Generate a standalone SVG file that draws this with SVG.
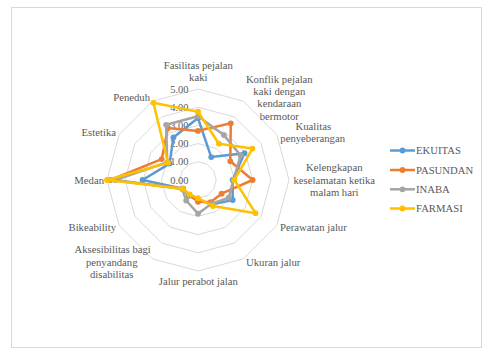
<svg xmlns="http://www.w3.org/2000/svg" width="484" height="351" viewBox="0 0 484 351">
<style>
.lbl{font-family:"Liberation Serif","Times New Roman",serif;font-size:10.7px;fill:#595959;}
.mid{text-anchor:middle;}
.end{text-anchor:end;}
.tick{font-family:"Liberation Serif","Times New Roman",serif;font-size:10.5px;fill:#595959;text-anchor:end;}
.ring{fill:none;stroke:#D9D9D9;stroke-width:1;}
.ser{fill:none;stroke-width:2.5;stroke-linejoin:round;}
</style>
<defs>
<marker id="mB" markerUnits="userSpaceOnUse" markerWidth="8" markerHeight="8" refX="4" refY="4" overflow="visible"><circle cx="4" cy="4" r="2.9" fill="#5B9BD5"/></marker>
<marker id="mO" markerUnits="userSpaceOnUse" markerWidth="8" markerHeight="8" refX="4" refY="4" overflow="visible"><circle cx="4" cy="4" r="2.9" fill="#ED7D31"/></marker>
<marker id="mG" markerUnits="userSpaceOnUse" markerWidth="8" markerHeight="8" refX="4" refY="4" overflow="visible"><circle cx="4" cy="4" r="2.9" fill="#A5A5A5"/></marker>
<marker id="mY" markerUnits="userSpaceOnUse" markerWidth="8" markerHeight="8" refX="4" refY="4" overflow="visible"><circle cx="4" cy="4" r="2.9" fill="#FFC000"/></marker>
</defs>
<rect x="0" y="0" width="484" height="351" fill="#FFFFFF"/>
<rect x="11.5" y="7.5" width="470" height="340" fill="#FFFFFF" stroke="#D9D9D9" stroke-width="1"/>
<g id="grid">
<polygon class="ring" points="198,89 243.5,101.2 276.8,134.5 289,180 276.8,225.5 243.5,258.8 198,271 152.5,258.8 119.2,225.5 107,180 119.2,134.5 152.5,101.2"/>
<polygon class="ring" points="198,107.2 234.4,117 261.1,143.6 270.8,180 261.1,216.4 234.4,243 198,252.8 161.6,243 134.9,216.4 125.2,180 134.9,143.6 161.6,117"/>
<polygon class="ring" points="198,125.4 225.3,132.7 245.3,152.7 252.6,180 245.3,207.3 225.3,227.3 198,234.6 170.7,227.3 150.7,207.3 143.4,180 150.7,152.7 170.7,132.7"/>
<polygon class="ring" points="198,143.6 216.2,148.5 229.5,161.8 234.4,180 229.5,198.2 216.2,211.5 198,216.4 179.8,211.5 166.5,198.2 161.6,180 166.5,161.8 179.8,148.5"/>
<polygon class="ring" points="198,161.8 207.1,164.2 213.8,170.9 216.2,180 213.8,189.1 207.1,195.8 198,198.2 188.9,195.8 182.2,189.1 179.8,180 182.2,170.9 188.9,164.2"/>
</g>
<g id="ticks">
<text class="tick" x="188.5" y="92.5">5.00</text>
<text class="tick" x="188.5" y="110.7">4.00</text>
<text class="tick" x="188.5" y="128.9">3.00</text>
<text class="tick" x="188.5" y="147.1">2.00</text>
<text class="tick" x="188.5" y="165.3">1.00</text>
<text class="tick" x="188.5" y="183.5">0.00</text>
</g>
<g id="axis-labels">
<text class="lbl mid" x="198.3" y="69">Fasilitas pejalan</text>
<text class="lbl mid" x="198.3" y="81">kaki</text>
<text class="lbl mid" x="279.3" y="82.5">Konflik pejalan</text>
<text class="lbl mid" x="279.3" y="94.5">kaki dengan</text>
<text class="lbl mid" x="279.3" y="107">kendaraan</text>
<text class="lbl mid" x="279.3" y="119.5">bermotor</text>
<text class="lbl mid" x="313.3" y="129.5">Kualitas</text>
<text class="lbl mid" x="312.7" y="142">penyeberangan</text>
<text class="lbl mid" x="334.3" y="170.5">Kelengkapan</text>
<text class="lbl mid" x="334.3" y="183.5">keselamatan ketika</text>
<text class="lbl mid" x="334.3" y="196">malam hari</text>
<text class="lbl" x="280" y="231">Perawatan jalur</text>
<text class="lbl" x="246" y="265.5">Ukuran jalur</text>
<text class="lbl mid" x="198.3" y="284.5">Jalur perabot jalan</text>
<text class="lbl mid" x="112.7" y="253">Aksesibilitas bagi</text>
<text class="lbl mid" x="111.7" y="265.5">penyandang</text>
<text class="lbl mid" x="111.7" y="278">disabilitas</text>
<text class="lbl end" x="116" y="231">Bikeability</text>
<text class="lbl end" x="104" y="183.5">Medan</text>
<text class="lbl end" x="116" y="135.5">Estetika</text>
<text class="lbl end" x="150" y="101">Peneduh</text>
</g>
<g id="connectors">
<polygon id="s-ekuitas" class="ser" stroke="#5B9BD5" marker-start="url(#mB)" marker-mid="url(#mB)" points="198,118.1 211.2,157.1 244.5,153.2 232.6,180 232.7,200 212.1,204.4 198,200 188.9,195.8 183,188.6 142.5,180 169.6,163.6 173.4,137.5"/>
<polygon id="s-pasundan" class="ser" stroke="#ED7D31" marker-start="url(#mO)" marker-mid="url(#mO)" points="198,130.9 230.8,123.3 230.3,161.3 252.6,180 221.6,193.7 210.7,202.1 198,201.8 189.4,195 183,188.6 110.6,180 161.7,159.1 168,128"/>
<polygon id="s-inaba" class="ser" stroke="#A5A5A5" marker-start="url(#mG)" marker-mid="url(#mG)" points="198,116.3 223.9,135.1 240.6,155.4 233.5,180 228.7,197.7 211.7,203.6 198,213.7 186.2,200.5 182.2,189.1 115.2,180 167.3,162.3 166.1,124.8"/>
<polygon id="s-farmasi" class="ser" stroke="#FFC000" marker-start="url(#mY)" marker-mid="url(#mY)" points="198,111.7 218.9,143.7 252.4,148.6 234.4,180 255.5,213.2 213,206 198,198.2 189.6,194.5 182.7,188.8 107,180 168,162.7 153.4,102.8"/>
</g>
<g id="legend">
<g id="leg-ekuitas"><line x1="390" y1="150.5" x2="415" y2="150.5" stroke="#5B9BD5" stroke-width="2.5"/><circle cx="402.5" cy="150.5" r="2.9" fill="#5B9BD5"/><text class="lbl" x="416" y="154">EKUITAS</text></g>
<g id="leg-pasundan"><line x1="390" y1="170" x2="415" y2="170" stroke="#ED7D31" stroke-width="2.5"/><circle cx="402.5" cy="170" r="2.9" fill="#ED7D31"/><text class="lbl" x="416" y="173.5">PASUNDAN</text></g>
<g id="leg-inaba"><line x1="390" y1="189.3" x2="415" y2="189.3" stroke="#A5A5A5" stroke-width="2.5"/><circle cx="402.5" cy="189.3" r="2.9" fill="#A5A5A5"/><text class="lbl" x="416" y="192.8">INABA</text></g>
<g id="leg-farmasi"><line x1="390" y1="208.5" x2="415" y2="208.5" stroke="#FFC000" stroke-width="2.5"/><circle cx="402.5" cy="208.5" r="2.9" fill="#FFC000"/><text class="lbl" x="416" y="212">FARMASI</text></g>
</g>
</svg>
